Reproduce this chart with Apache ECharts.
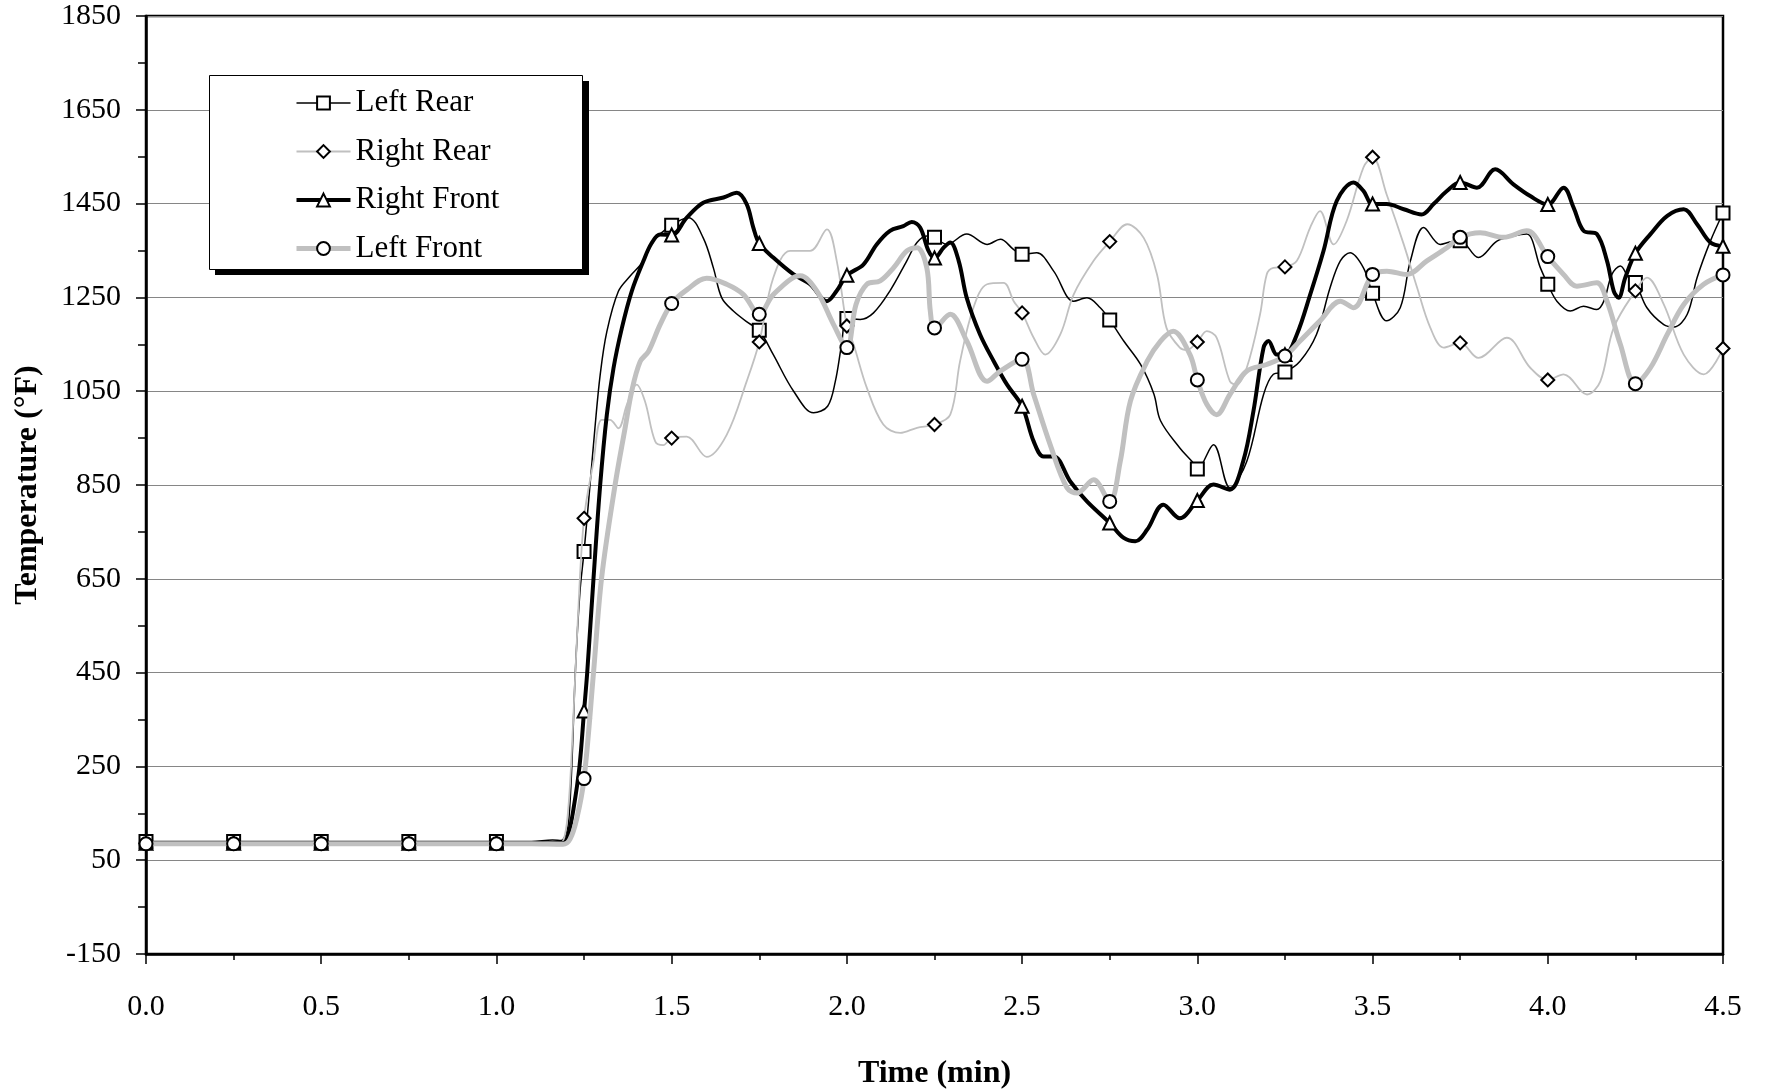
<!DOCTYPE html>
<html><head><meta charset="utf-8">
<script src="https://cdn.jsdelivr.net/npm/echarts@6/dist/echarts.min.js"></script>
<style>html,body{margin:0;padding:0;background:#fff}#c{width:1765px;height:1091px}</style>
</head><body><div id="c"></div>
<script>
// Marker times (min) — markers are drawn every 0.25 min
const markerTimes = [0, 0.25, 0.5, 0.75, 1.0, 1.25, 1.5, 1.75, 2.0, 2.25, 2.5, 2.75, 3.0, 3.25, 3.5, 3.75, 4.0, 4.25, 4.5];
const seriesNames = ['Left Rear', 'Right Rear', 'Right Front', 'Left Front'];

// Temperatures (°F) at marker times
const leftRearMarkers  = [90, 90, 90, 90, 90, 708, 1404, 1180, 1205, 1378, 1342, 1202, 884, 1091, 1259, 1371, 1278, 1282, 1430];
const rightRearMarkers = [86, 86, 86, 86, 86, 779, 950, 1155, 1189, 979, 1217, 1369, 1155, 1315, 1549, 1153, 1074, 1264, 1141];
const rightFrontMarkers = [86, 86, 86, 86, 86, 368, 1383, 1365, 1297, 1334, 1018, 769, 817, 1128, 1449, 1495, 1448, 1344, 1359];
const leftFrontMarkers = [85, 85, 85, 85, 85, 224, 1237, 1214, 1143, 1185, 1118, 815, 1074, 1125, 1299, 1378, 1337, 1066, 1298];

// Intermediate readings between markers: [time (min), temperature (°F)]
const leftRearTrace = [
  [1.1, 90], [1.16, 93], [1.185, 92], [1.2, 110], [1.207, 140], [1.215, 250], [1.225, 450], [1.238, 620],
  [1.267, 850], [1.281, 971], [1.296, 1085], [1.315, 1177], [1.348, 1263], [1.381, 1295], [1.419, 1327], [1.448, 1370],
  [1.548, 1420], [1.59, 1377], [1.619, 1313], [1.643, 1249], [1.676, 1221], [1.72, 1195],
  [1.79, 1128], [1.848, 1050], [1.905, 1004], [1.945, 1018], [1.967, 1071], [1.985, 1150],
  [2.038, 1203], [2.076, 1217], [2.123, 1264], [2.171, 1328], [2.2, 1367], [2.228, 1381],
  [2.285, 1363], [2.342, 1385], [2.4, 1363], [2.438, 1374], [2.476, 1352],
  [2.542, 1345], [2.59, 1306], [2.647, 1242], [2.685, 1249], [2.723, 1228],
  [2.79, 1157], [2.838, 1107], [2.876, 1044], [2.895, 987], [2.95, 929], [2.985, 900],
  [3.046, 936], [3.093, 844], [3.141, 900], [3.189, 1043], [3.217, 1086],
  [3.293, 1114], [3.34, 1171], [3.379, 1271], [3.408, 1328], [3.436, 1345], [3.474, 1313],
  [3.54, 1200], [3.579, 1228], [3.608, 1328], [3.646, 1399], [3.693, 1363], [3.72, 1368],
  [3.802, 1335], [3.855, 1370], [3.902, 1381], [3.94, 1385], [3.979, 1313],
  [4.026, 1242], [4.064, 1221], [4.102, 1231], [4.14, 1224], [4.16, 1242], [4.183, 1299], [4.207, 1317], [4.231, 1292],
  [4.283, 1228], [4.331, 1192], [4.36, 1187], [4.398, 1214], [4.426, 1292], [4.464, 1370]
];
const rightRearTrace = [
  [1.1, 86], [1.17, 86], [1.19, 90], [1.205, 160], [1.218, 330], [1.232, 560],
  [1.277, 900], [1.3, 989], [1.324, 989], [1.348, 971], [1.372, 1021], [1.4, 1064], [1.424, 1028], [1.453, 943], [1.476, 935],
  [1.543, 953], [1.6, 910], [1.657, 957], [1.714, 1071],
  [1.79, 1292], [1.838, 1349], [1.895, 1349], [1.943, 1395], [1.971, 1328],
  [2.019, 1150], [2.057, 1057], [2.104, 979], [2.152, 961], [2.2, 972],
  [2.295, 1000], [2.323, 1114], [2.361, 1228], [2.4, 1278], [2.447, 1281], [2.476, 1242],
  [2.533, 1164], [2.566, 1128], [2.609, 1171], [2.647, 1256], [2.704, 1328],
  [2.8, 1406], [2.847, 1377], [2.885, 1299], [2.912, 1185], [2.95, 1143], [2.97, 1138],
  [3.027, 1178], [3.055, 1164], [3.093, 1071], [3.112, 1064], [3.141, 1100], [3.179, 1214], [3.198, 1299], [3.217, 1313],
  [3.284, 1328], [3.322, 1399], [3.35, 1434], [3.389, 1363], [3.426, 1413], [3.474, 1527],
  [3.54, 1470], [3.589, 1363], [3.627, 1271], [3.665, 1185], [3.703, 1143],
  [3.802, 1121], [3.883, 1164], [3.95, 1100],
  [4.045, 1086], [4.112, 1043], [4.15, 1071], [4.188, 1185],
  [4.283, 1292], [4.331, 1235], [4.388, 1128], [4.445, 1086]
];
const rightFrontTrace = [
  [1.1, 86], [1.19, 86], [1.205, 105], [1.22, 160], [1.237, 250],
  [1.259, 450], [1.277, 651], [1.296, 850], [1.315, 1000], [1.334, 1099], [1.358, 1185], [1.386, 1263], [1.419, 1327], [1.443, 1366], [1.467, 1384],
  [1.543, 1420], [1.59, 1452], [1.648, 1463], [1.686, 1473], [1.714, 1449], [1.733, 1399],
  [1.79, 1335], [1.848, 1299], [1.895, 1278], [1.943, 1242], [1.971, 1264],
  [2.047, 1320], [2.085, 1363], [2.123, 1392], [2.161, 1402], [2.185, 1411], [2.209, 1399], [2.233, 1349],
  [2.276, 1356], [2.295, 1367], [2.319, 1328], [2.342, 1249], [2.38, 1171], [2.419, 1114], [2.457, 1064],
  [2.533, 943], [2.561, 911], [2.59, 911], [2.638, 857], [2.685, 815],
  [2.79, 737], [2.823, 730], [2.857, 755], [2.903, 808], [2.95, 779],
  [3.046, 851], [3.093, 840], [3.131, 901], [3.16, 1007], [3.189, 1143], [3.203, 1157], [3.227, 1128],
  [3.284, 1171], [3.322, 1256], [3.36, 1349], [3.398, 1456], [3.446, 1495], [3.474, 1477],
  [3.54, 1449], [3.589, 1438], [3.64, 1427], [3.674, 1449], [3.712, 1477],
  [3.798, 1484], [3.85, 1523], [3.902, 1491], [3.95, 1466],
  [4.045, 1484], [4.074, 1441], [4.102, 1392], [4.14, 1385], [4.169, 1328], [4.188, 1264], [4.202, 1249], [4.221, 1292],
  [4.293, 1385], [4.341, 1424], [4.388, 1438], [4.426, 1406], [4.464, 1367]
];
const leftFrontTrace = [
  [1.1, 85], [1.19, 84], [1.21, 95], [1.229, 138],
  [1.277, 450], [1.3, 651], [1.3385, 850], [1.367, 971], [1.386, 1050], [1.41, 1113], [1.434, 1135], [1.467, 1192],
  [1.543, 1266], [1.6, 1291], [1.657, 1278], [1.705, 1256],
  [1.79, 1256], [1.867, 1296], [1.914, 1264], [1.962, 1192],
  [2.026, 1235], [2.057, 1278], [2.095, 1285], [2.133, 1313], [2.171, 1349], [2.2, 1356], [2.228, 1313], [2.238, 1221],
  [2.295, 1214], [2.342, 1157], [2.4, 1071], [2.438, 1093],
  [2.533, 1043], [2.58, 936], [2.628, 844], [2.657, 833], [2.704, 861],
  [2.78, 900], [2.809, 1029], [2.857, 1114], [2.895, 1157], [2.931, 1178], [2.979, 1128],
  [3.027, 1022], [3.055, 1000], [3.093, 1043], [3.141, 1093], [3.198, 1107],
  [3.293, 1157], [3.35, 1200], [3.408, 1242], [3.446, 1228],
  [3.541, 1306], [3.598, 1299], [3.655, 1328], [3.712, 1356],
  [3.807, 1388], [3.874, 1378], [3.94, 1392],
  [4.045, 1299], [4.083, 1274], [4.14, 1281], [4.169, 1242], [4.207, 1150],
  [4.293, 1100], [4.341, 1171], [4.388, 1235], [4.445, 1278]
];

function buildData(markers, trace) {
  const pts = markers.map((v, i) => ({ value: [markerTimes[i], v] }));
  trace.forEach(p => pts.push({ value: [p[0], p[1]], symbol: 'none' }));
  pts.sort((a, b) => a.value[0] - b.value[0]);
  return pts;
}

const FONT = '"Liberation Serif", "Times New Roman", serif';
const styles = [
  { symbol: 'rect', color: '#000000', width: 1.5, data: buildData(leftRearMarkers, leftRearTrace) },
  { symbol: 'diamond', color: '#c0c0c0', width: 1.8, data: buildData(rightRearMarkers, rightRearTrace) },
  { symbol: 'triangle', color: '#000000', width: 4, data: buildData(rightFrontMarkers, rightFrontTrace) },
  { symbol: 'circle', color: '#c0c0c0', width: 5, data: buildData(leftFrontMarkers, leftFrontTrace) }
];

const chart = echarts.init(document.getElementById('c'), null, { renderer: 'canvas' });
chart.setOption({
  animation: false,
  backgroundColor: '#ffffff',
  grid: { left: 146, right: 42, top: 16, bottom: 137, outerBoundsMode: 'none', containLabel: false,
          show: true, borderColor: '#000', borderWidth: 2.5, backgroundColor: 'transparent' },
  graphic: [
    { type: 'rect', z: 50, silent: true, shape: { x: 215, y: 81, width: 374, height: 194 }, style: { fill: '#000' } },
    { type: 'rect', z: 51, silent: true, shape: { x: 209.5, y: 75.5, width: 373, height: 194 }, style: { fill: '#fff', stroke: '#000', lineWidth: 1 } }
  ],
  legend: {
    orient: 'vertical', left: 209, top: 75, z: 60,
    padding: [11, 85, 8, 85],
    itemWidth: 54, itemHeight: 16, itemGap: 14.5,
    backgroundColor: 'transparent', borderWidth: 0,
    selectedMode: false,
    textStyle: { fontFamily: FONT, fontSize: 31, color: '#000', lineHeight: 34 },
    data: seriesNames.map((n, i) => ({
      name: n,
      lineStyle: { color: styles[i].color, width: styles[i].width },
      itemStyle: { color: '#fff', borderColor: '#000', borderWidth: 2 }
    }))
  },
  xAxis: {
    type: 'value', min: 0, max: 4.5, interval: 0.5,
    name: 'Time (min)', nameLocation: 'middle', nameGap: 104,
    nameTextStyle: { fontFamily: FONT, fontWeight: 'bold', fontSize: 32, color: '#000' },
    axisLine: { show: true, onZero: false, lineStyle: { color: '#000', width: 2.5 } },
    axisTick: { show: true, inside: false, length: 10, lineStyle: { color: '#000', width: 1.5 } },
    minorTick: { show: true, splitNumber: 2, length: 6, lineStyle: { color: '#000', width: 1.5 } },
    axisLabel: { fontFamily: FONT, fontSize: 30, color: '#000', margin: 38, formatter: v => v.toFixed(1) },
    splitLine: { show: false }
  },
  yAxis: {
    type: 'value', min: -150, max: 1850, interval: 200,
    name: 'Temperature (°F)', nameLocation: 'middle', nameGap: 102, nameRotate: 90,
    nameTextStyle: { fontFamily: FONT, fontWeight: 'bold', fontSize: 32, color: '#000' },
    axisLine: { show: true, onZero: false, lineStyle: { color: '#000', width: 2.5 } },
    axisTick: { show: true, inside: false, length: 10, lineStyle: { color: '#000', width: 1.5 } },
    minorTick: { show: true, splitNumber: 2, length: 8, lineStyle: { color: '#000', width: 1.5 } },
    axisLabel: { fontFamily: FONT, fontSize: 30, color: '#000', margin: 25, formatter: v => String(v) },
    splitLine: { show: true, lineStyle: { color: '#868686', width: 1.2 } }
  },
  series: styles.map((s, i) => ({
    name: seriesNames[i],
    type: 'line',
    data: s.data,
    smooth: 0.35,
    symbol: s.symbol,
    symbolSize: 13,
    showSymbol: true,
    showAllSymbol: true,
    clip: false,
    z: 2 + i,
    lineStyle: { color: s.color, width: s.width },
    itemStyle: { color: '#fff', borderColor: '#000', borderWidth: 2 },
    emphasis: { disabled: true }
  }))
});
</script>
</body></html>
